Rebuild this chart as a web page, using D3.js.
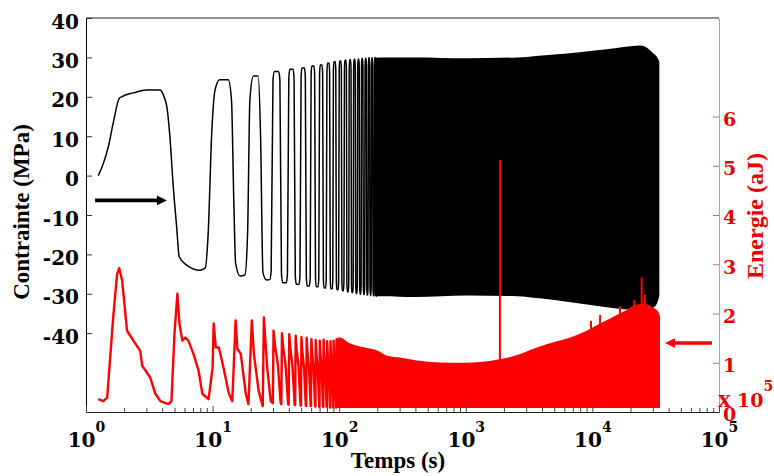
<!DOCTYPE html>
<html><head><meta charset="utf-8">
<script src="https://cdn.jsdelivr.net/npm/d3@7"></script>
<style>html,body{margin:0;padding:0;background:#fff;} svg{display:block;}</style>
</head><body><svg id="c" width="774" height="476"></svg>
<script>
// ---------- DATA ----------
// Stress (MPa) – first cycles, explicit points
const stressT = [1.25,1.37,1.50,1.64,1.83,1.91,2.37,3.01,3.84,4.08,4.39,4.6,4.89,5.2,5.45,6.24,7.96,8.74,9.23,9.84,10.45,11.4,13.3,14.1,14.7,15.2,16.5,18.0,18.9,19.7,21.0,22.9,23.9,25.0,26.7,28.3];
const stressV = [0,3.1,7.3,13.3,19.6,20.0,21.0,21.7,21.7,20.5,16.6,9.9,-2.8,-13.0,-20.6,-22.7,-24.0,-23.5,-14.6,10.7,21.7,24.3,24.3,19.2,-6.2,-22.2,-25.5,-25.2,-14.6,19.2,25.3,25.3,10.8,-24.7,-26.5,-26.4];
// Stress – later resolved cycles: time of rise, peak and trough of each cycle
const cycleUp     = [29.5,39.5,49.5,59.5,69.5,79.5,89.5,99.5,109.5,119.5,129.5,139.5,149.5,159.5,169.5,179.5,189.5];
const cyclePeak   = [26.4,27.0,27.3,27.8,28.1,28.5,28.9,29.1,29.3,29.4,29.5,29.6,29.7,29.8,29.9,29.9,30.0];
const cycleTrough = [-27.2,-27.6,-28.0,-28.2,-28.5,-28.7,-29.0,-29.2,-29.5,-29.7,-29.9,-30.1,-30.2,-30.3,-30.4,-30.5,-30.6];
// Stress – dense band envelope
const bandT      = [190,222,400,1020,2540,4000,6300,10000,15600,20000,24000,26800,30300,32200,33800];
const bandTop    = [29.9,30.0,30.0,29.8,30.0,30.5,31.0,31.7,32.4,32.8,33.0,32.5,31.0,30.2,28.9];
const bandBottom = [-30.6,-30.6,-30.8,-30.4,-30.6,-31.2,-32.0,-32.9,-33.7,-34.0,-34.1,-34.1,-33.5,-32.6,-30.5];

// Energy (x10^5 aJ) – first half-cycles, explicit points
const energyT = [1.25,1.37,1.47,1.64,1.76,1.83,1.93,2.11,2.37,2.68,2.78,3.22,3.53,3.87,4.48,4.73,5.0,5.27,5.47,5.77,6.1,6.44,7.06,7.75,8.3,9.3,10.0,10.2,10.6,11.2,12.2,13.4,14.3,15.2,15.7,16.7,18.3,19.2,20.4,21.2,23.1,24.9,25.4,27.0,28.8];
const energyV = [0.26,0.22,0.29,1.92,2.8,2.92,2.67,1.65,1.45,1.24,0.94,0.7,0.37,0.22,0.16,0.22,1.59,2.4,1.8,1.45,1.51,1.45,1.18,0.84,0.37,0.26,0.9,1.8,1.31,1.31,0.9,0.39,0.22,1.86,1.28,1.18,0.37,0.16,1.86,1.18,0.43,0.12,1.92,0.9,0.22];
// Energy – later resolved half-cycles: spike time, spike height, low value
const spikeUp   = [30.3,35.3,40.3,45.3,50.3,55.3,60.3,65.3,70.3,75.3,80.3,85.3,90.3,95.3];
const spikePeak = [1.65,1.60,1.58,1.55,1.52,1.51,1.48,1.46,1.45,1.47,1.44,1.44,1.45,1.48];
const spikeLow  = [0.18,0.16,0.15,0.14,0.13,0.12,0.12,0.11,0.10,0.10,0.10,0.09,0.09,0.09];
// Energy – dense band envelope
const eBandT   = [95,100,120,165,200,240,310,400,500,775,1000,1500,1940,2500,3560,5000,6600,9000,12000,15000,18000,22000,26000,30000,33000,34200];
const eBandTop = [1.45,1.52,1.40,1.30,1.25,1.14,1.10,1.05,1.02,1.0,1.0,1.03,1.08,1.15,1.30,1.42,1.51,1.65,1.82,1.95,2.05,2.18,2.20,2.12,2.04,1.95];
const eBase = 0.08;
// Energy – isolated spikes
const eSpikeT = [1860,9750,11500,16500,21400,24500,26000];
const eSpikeV = [5.12,1.85,1.97,2.15,2.27,2.73,2.38];

// Axis ticks
const leftTicks  = [-40,-30,-20,-10,0,10,20,30,40];
const rightTicks = [0,1,2,3,4,5,6];
const xMajor = [1,10,100,1000,10000,100000];
const xExp   = ["0","1","2","3","4","5"];

// Annotation arrows (data coordinates)
const blackArrow = {t0:1.18, t1:4.36, v:-6.3};
const redArrow   = {t0:88000, t1:37400, v:1.40};

// ---------- DRAWING ----------
const svg = d3.select("#c");
const x  = d3.scaleLog().domain([1,1e5]).range([86,719]);
const yL = d3.scaleLinear().domain([-60,40]).range([412,18]);
const yR = d3.scaleLinear().domain([0,8]).range([412,18]);
const RED = "#ff0000", RTXT = "#e60000";
const NUMF = "'DejaVu Serif', serif", TXTF = "'Liberation Serif', 'Times New Roman', serif";

svg.append("clipPath").attr("id","clip").append("rect")
  .attr("x",86).attr("y",18).attr("width",633).attr("height",394);
const plot = svg.append("g").attr("clip-path","url(#clip)");

// Stress line points
const stressPts = stressT.map((t,i)=>[t,stressV[i]]);
let prevTr = stressV[stressV.length-1];
cycleUp.forEach((u,i)=>{
  const P = cyclePeak[i], Tr = cycleTrough[i];
  stressPts.push([u-0.5,prevTr*0.92],[u+0.5,P*0.92],[u+1.3,P],[u+3.7,P],[u+4.5,P*0.92],[u+5.5,Tr*0.92],[u+6.3,Tr],[u+8.7,Tr]);
  prevTr = Tr;
});
const lineL = d3.line().x(d=>x(d[0])).y(d=>yL(d[1])).curve(d3.curveMonotoneX);
plot.append("path").datum(stressPts).attr("d",lineL)
  .attr("fill","none").attr("stroke","#000").attr("stroke-width",1.5);
const bandPts = bandT.map((t,i)=>[t,bandTop[i],bandBottom[i]]);
plot.append("path").datum(bandPts)
  .attr("d", d3.area().x(d=>x(d[0])).y1(d=>yL(d[1])).y0(d=>yL(d[2])).curve(d3.curveMonotoneX))
  .attr("fill","#000");

// Energy
const energyPts = energyT.map((t,i)=>[t,energyV[i]]);
spikeUp.forEach((s,i)=>{
  const pk = spikePeak[i], lo = spikeLow[i];
  energyPts.push([s-0.4,lo],[s,pk],[s+0.8,pk*0.82],[s+2.4,pk*0.6],[s+4.2,lo]);
});
const lineR = d3.line().x(d=>x(d[0])).y(d=>yR(d[1]));
plot.append("path").datum(energyPts).attr("d",lineR)
  .attr("fill","none").attr("stroke",RED).attr("stroke-width",2.4).attr("stroke-linejoin","round");
const eBandPts = eBandT.map((t,i)=>[t,eBandTop[i]]);
plot.append("path").datum(eBandPts)
  .attr("d", d3.area().x(d=>x(d[0])).y1(d=>yR(d[1])).y0(yR(eBase)).curve(d3.curveMonotoneX))
  .attr("fill",RED);
plot.selectAll("line.spk").data(eSpikeT.map((t,i)=>[t,eSpikeV[i]])).join("line")
  .attr("x1",d=>x(d[0])).attr("x2",d=>x(d[0]))
  .attr("y1",yR(eBase)).attr("y2",d=>yR(d[1]))
  .attr("stroke",RED).attr("stroke-width",2);

// Axes
const gL = svg.append("g").attr("transform",`translate(${x(1)},0)`)
  .call(d3.axisLeft(yL).tickValues(leftTicks).tickSize(-6).tickSizeOuter(0).tickPadding(7).tickFormat(d=>String(d)));
gL.select(".domain").attr("stroke","#000");
gL.selectAll(".tick line").attr("stroke","#333");
gL.selectAll("text").attr("font-family",NUMF).attr("font-weight","bold")
  .attr("font-size",20).attr("fill","#000").attr("dy","0.5em");

const gR = svg.append("g").attr("transform",`translate(${x(1e5)},0)`)
  .call(d3.axisRight(yR).tickValues(rightTicks).tickSize(-6).tickSizeOuter(0).tickPadding(4).tickFormat(d=>String(d)));
gR.select(".domain").attr("stroke","#d39494");
gR.selectAll(".tick line").attr("stroke","#c86a6a");
gR.selectAll("text").attr("font-family",NUMF).attr("font-weight","bold")
  .attr("font-size",19).attr("fill",RTXT).attr("dy","0.47em");

// bottom axis: minor then major
const minor = [];
for (let d=1; d<1e5; d*=10) for (let k=2;k<10;k++) minor.push(d*k);
const gBm = svg.append("g").attr("transform",`translate(0,${yL(-60)})`)
  .call(d3.axisBottom(x).tickValues(minor).tickSize(-4).tickSizeOuter(0).tickFormat(""));
gBm.selectAll(".tick line").attr("stroke","#444");
gBm.select(".domain").attr("stroke","#222");
const gB = svg.append("g").attr("transform",`translate(0,${yL(-60)})`)
  .call(d3.axisBottom(x).tickValues(xMajor).tickSize(-6).tickSizeOuter(0).tickFormat(""));
gB.select(".domain").remove();
gB.selectAll(".tick line").attr("stroke","#444");
gB.selectAll(".tick text").each(function(d,i){
  const t = d3.select(this).attr("y",35).attr("dy",null)
    .attr("font-family",NUMF).attr("font-weight","bold").attr("font-size",20).attr("fill","#000");
  t.append("tspan").text("10");
  t.append("tspan").attr("dy",-15).attr("font-size",14).text(xExp[i]);
});

// top border
svg.append("line").attr("x1",x(1)).attr("x2",x(1e5)).attr("y1",yL(40)).attr("y2",yL(40))
  .attr("stroke","#222").attr("stroke-width",1);

// exponent label
const ex = svg.append("text").attr("x",718).attr("y",407).attr("fill",RTXT)
  .attr("font-weight","bold");
ex.append("tspan").attr("font-family",TXTF).attr("font-size",26).text("x");
ex.append("tspan").attr("font-family",NUMF).attr("font-size",19).attr("dx",6).text("10");
ex.append("tspan").attr("font-family",NUMF).attr("font-size",14).attr("dy",-16).text("5");

// axis titles
svg.append("text").attr("x",398).attr("y",468).attr("text-anchor","middle")
  .attr("font-family",TXTF).attr("font-weight","bold").attr("font-size",23).text("Temps (s)");
svg.append("text").attr("transform","translate(29,212) rotate(-90)").attr("text-anchor","middle")
  .attr("font-family",TXTF).attr("font-weight","bold").attr("font-size",23).text("Contrainte (MPa)");
svg.append("text").attr("transform","translate(763,216) rotate(-90)").attr("text-anchor","middle")
  .attr("fill",RTXT).attr("font-family",TXTF).attr("font-weight","bold").attr("font-size",24).text("Energie (aJ)");

// arrows
function arrow(x0,x1,y,col){
  const dir = Math.sign(x1-x0), hl = 10, hw = 4.8;
  svg.append("line").attr("x1",x0).attr("x2",x1-dir*hl+dir).attr("y1",y).attr("y2",y)
    .attr("stroke",col).attr("stroke-width",3.6);
  svg.append("path").attr("d",`M${x1},${y}L${x1-dir*hl},${y-hw}L${x1-dir*hl},${y+hw}Z`).attr("fill",col);
}
arrow(x(blackArrow.t0), x(blackArrow.t1), yL(blackArrow.v), "#000");
arrow(Math.min(x(redArrow.t0),713), x(redArrow.t1), yR(redArrow.v), RED);
</script></body></html>
